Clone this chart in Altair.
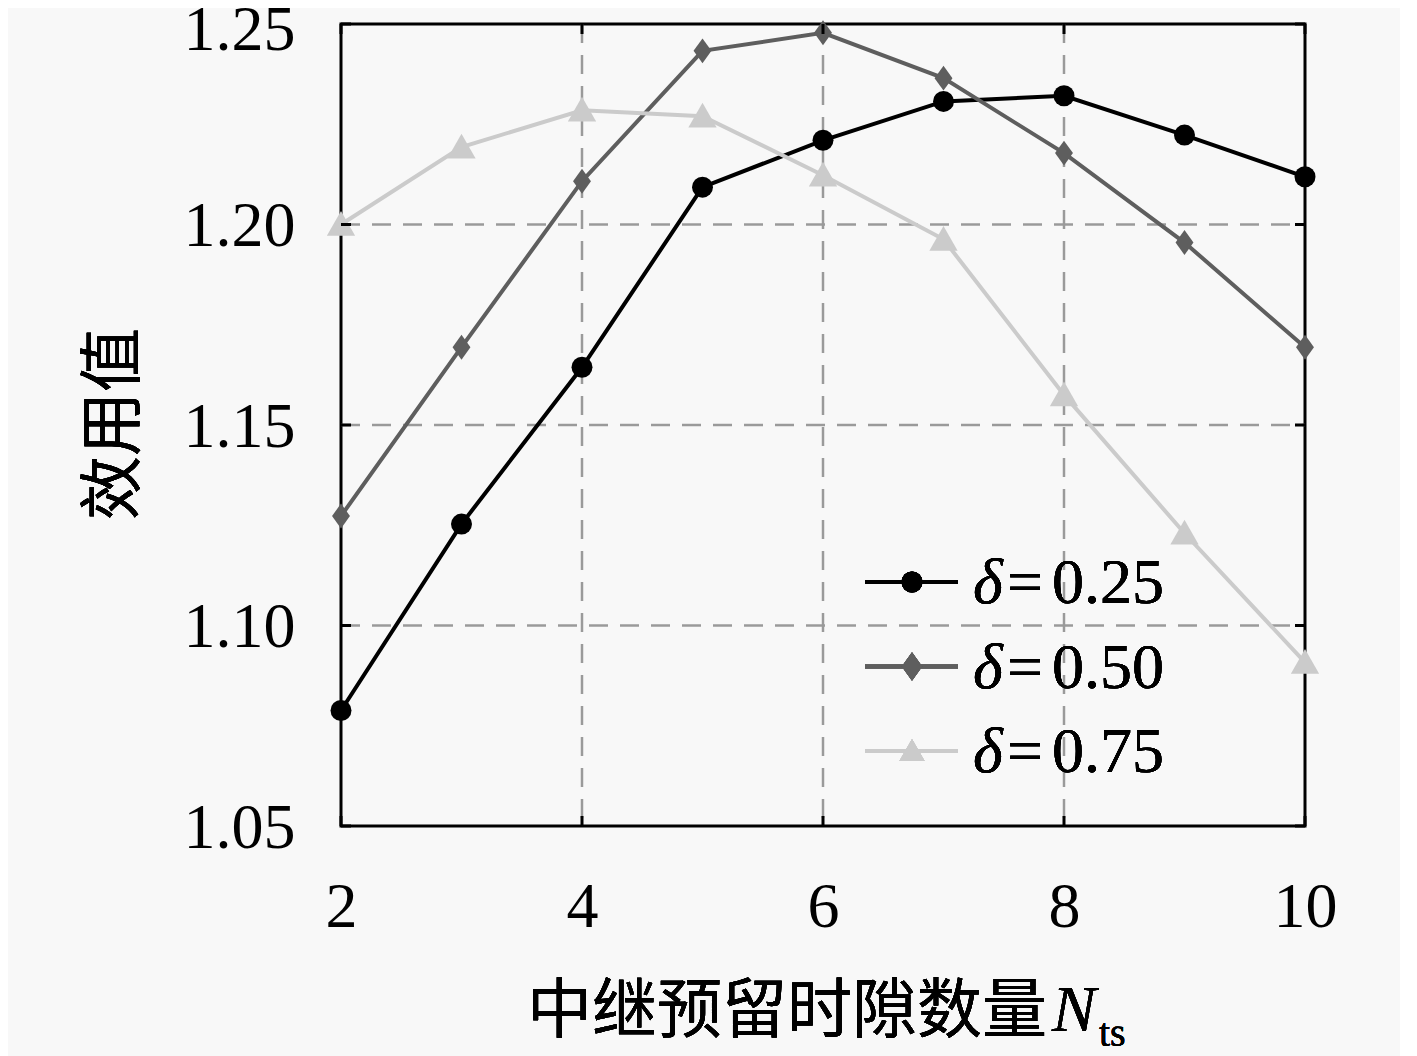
import altair as alt
import pandas as pd

# ---------------- data ----------------
x_vals = [2, 3, 4, 5, 6, 7, 8, 9, 10]
y_025 = [1.0788, 1.1253, 1.1644, 1.2093, 1.2210, 1.2307, 1.2321, 1.2223, 1.2119]
y_050 = [1.1273, 1.1694, 1.2108, 1.2433, 1.2478, 1.2365, 1.2178, 1.1955, 1.1694]
y_075 = [1.2000, 1.2193, 1.2285, 1.2270, 1.2123, 1.1963, 1.1575, 1.1230, 1.0908]
series_names = ["δ=0.25", "δ=0.50", "δ=0.75"]
legend_numbers = ["0.25", "0.50", "0.75"]
x_ticks = [2, 4, 6, 8, 10]
y_ticks = [1.05, 1.10, 1.15, 1.20, 1.25]
x_grid = [4, 6, 8]
y_grid = [1.10, 1.15, 1.20]
x_title = "中继预留时隙数量"
x_title_sym = "N"
x_title_sub = "ts"
y_title = "效用值"

rows = []
for name, ys in zip(series_names, [y_025, y_050, y_075]):
    for xv, yv in zip(x_vals, ys):
        rows.append({"x": xv, "y": yv, "series": name})
df = pd.DataFrame(rows)
df_xt = pd.DataFrame({"t": x_ticks})
df_yt = pd.DataFrame({"t": y_ticks})
df_xg = pd.DataFrame({"t": x_grid})
df_yg = pd.DataFrame({"t": y_grid})

# ---------------- styling ----------------
W, H = 964, 802
SERIF = "Liberation Serif"
CJK = "Noto Sans CJK SC"
colors = ["#000000", "#5e5e5e", "#cbcbcb"]
diamond = "M0,-1L0.72,0L0,1L-0.72,0Z"
triangle = "M0,-0.95L1,0.8L-1,0.8Z"
shapes = ["circle", diamond, triangle]
sizes = [440, 800, 640]
LW = 4

xs = alt.Scale(domain=[2, 10], nice=False, zero=False)
ys_ = alt.Scale(domain=[1.05, 1.25], nice=False, zero=False)
cs = alt.Scale(domain=series_names, range=colors)

ax_kw = dict(grid=False, ticks=False, domain=False, labelFont=SERIF, labelFontSize=64,
             labelColor="black", labelFlush=False, labelOverlap=False, title=None)

x_axis = alt.Axis(values=x_ticks, format="d", labelPadding=49, labelBaseline="top", **ax_kw)
y_axis = alt.Axis(values=y_ticks, format=".2f", labelPadding=46, labelBaseline="middle",
                  labelOffset={"condition": {"test": "datum.value > 1.245", "value": 6}, "value": 2},
                  **ax_kw)


def X(field):
    return alt.X(field, scale=xs, axis=x_axis)


def Y(field):
    return alt.Y(field, scale=ys_, axis=y_axis)


GRID = dict(color="#9a9a9a", strokeWidth=2.5, strokeDash=[19, 12])
grid_v = alt.Chart(df_xg).mark_rule(**GRID).encode(x=X("t:Q"), y=alt.value(0), y2=alt.value(H))
grid_h = alt.Chart(df_yg).mark_rule(**GRID).encode(y=Y("t:Q"), x=alt.value(0), x2=alt.value(W))

lines = alt.Chart(df).mark_line(strokeWidth=LW).encode(
    x=X("x:Q"),
    y=Y("y:Q"),
    color=alt.Color("series:N", scale=cs, legend=None),
)

points = alt.Chart(df).mark_point(filled=True, opacity=1, strokeWidth=0).encode(
    x=X("x:Q"),
    y=Y("y:Q"),
    color=alt.Color("series:N", scale=cs, legend=None),
    shape=alt.Shape("series:N", scale=alt.Scale(domain=series_names, range=shapes), legend=None),
    size=alt.Size("series:N", scale=alt.Scale(domain=series_names, range=sizes), legend=None),
)

# inward ticks on all four sides
tick_len = 10
tb = alt.Chart(df_xt).mark_rule(color="black", strokeWidth=3).encode(
    x=X("t:Q"), y=alt.value(H), y2=alt.value(H - tick_len))
tt = alt.Chart(df_xt).mark_rule(color="black", strokeWidth=3).encode(
    x=X("t:Q"), y=alt.value(0), y2=alt.value(tick_len))
tl = alt.Chart(df_yt).mark_rule(color="black", strokeWidth=3).encode(
    y=Y("t:Q"), x=alt.value(0), x2=alt.value(tick_len))
tr = alt.Chart(df_yt).mark_rule(color="black", strokeWidth=3).encode(
    y=Y("t:Q"), x=alt.value(W), x2=alt.value(W - tick_len))

# manual legend
legend_layers = []
row_y = [558, 642.5, 727]
for i, name in enumerate(series_names):
    ly = row_y[i]
    legend_layers.append(alt.Chart(df_xt).mark_rule(color=colors[i], strokeWidth=LW).encode(
        x=alt.value(524), x2=alt.value(617), y=alt.value(ly)))
    legend_layers.append(alt.Chart(df_xt).mark_point(
        filled=True, opacity=1, strokeWidth=0, color=colors[i], shape=shapes[i], size=sizes[i]
    ).encode(x=alt.value(571), y=alt.value(ly)))
    legend_layers.append(alt.Chart(df_xt).mark_text(
        align="left", baseline="alphabetic", font=SERIF, fontSize=64, fontStyle="italic", color="black"
    ).encode(x=alt.value(632), y=alt.value(ly + 21), text=alt.value("δ")))
    legend_layers.append(alt.Chart(df_xt).mark_text(
        align="center", baseline="alphabetic", font=SERIF, fontSize=64, color="black"
    ).encode(x=alt.value(684), y=alt.value(ly + 21), text=alt.value("=")))
    legend_layers.append(alt.Chart(df_xt).mark_text(
        align="left", baseline="alphabetic", font=SERIF, fontSize=64, color="black"
    ).encode(x=alt.value(711), y=alt.value(ly + 21), text=alt.value(legend_numbers[i])))

# axis titles
xt1 = alt.Chart(df_xt).mark_text(align="right", baseline="alphabetic", font=CJK, fontSize=65,
                                 color="black").encode(
    x=alt.value(706), y=alt.value(1008), text=alt.value(x_title))
xt2 = alt.Chart(df_xt).mark_text(align="left", baseline="alphabetic", font=SERIF, fontSize=66,
                                 fontStyle="italic", color="black").encode(
    x=alt.value(711), y=alt.value(1007), text=alt.value(x_title_sym))
xt3 = alt.Chart(df_xt).mark_text(align="left", baseline="alphabetic", font=SERIF, fontSize=40,
                                 color="black").encode(
    x=alt.value(758), y=alt.value(1022), text=alt.value(x_title_sub))
yt = alt.Chart(df_xt).mark_text(align="center", baseline="middle", font=CJK, fontSize=64,
                                angle=270, color="black").encode(
    x=alt.value(-226), y=alt.value(400), text=alt.value(y_title))

chart = alt.layer(grid_v, grid_h, lines, points, tb, tt, tl, tr, *legend_layers,
                  xt1, xt2, xt3, yt).properties(
    width=W, height=H,
    padding={"left": 333, "top": 16, "right": 95, "bottom": 232},
    autosize=alt.AutoSizeParams(type="none"),
    background="#f8f8f8",
).configure_view(stroke="black", strokeWidth=3)

chart.save("out.html", embed_options={"renderer": "svg", "actions": False})
